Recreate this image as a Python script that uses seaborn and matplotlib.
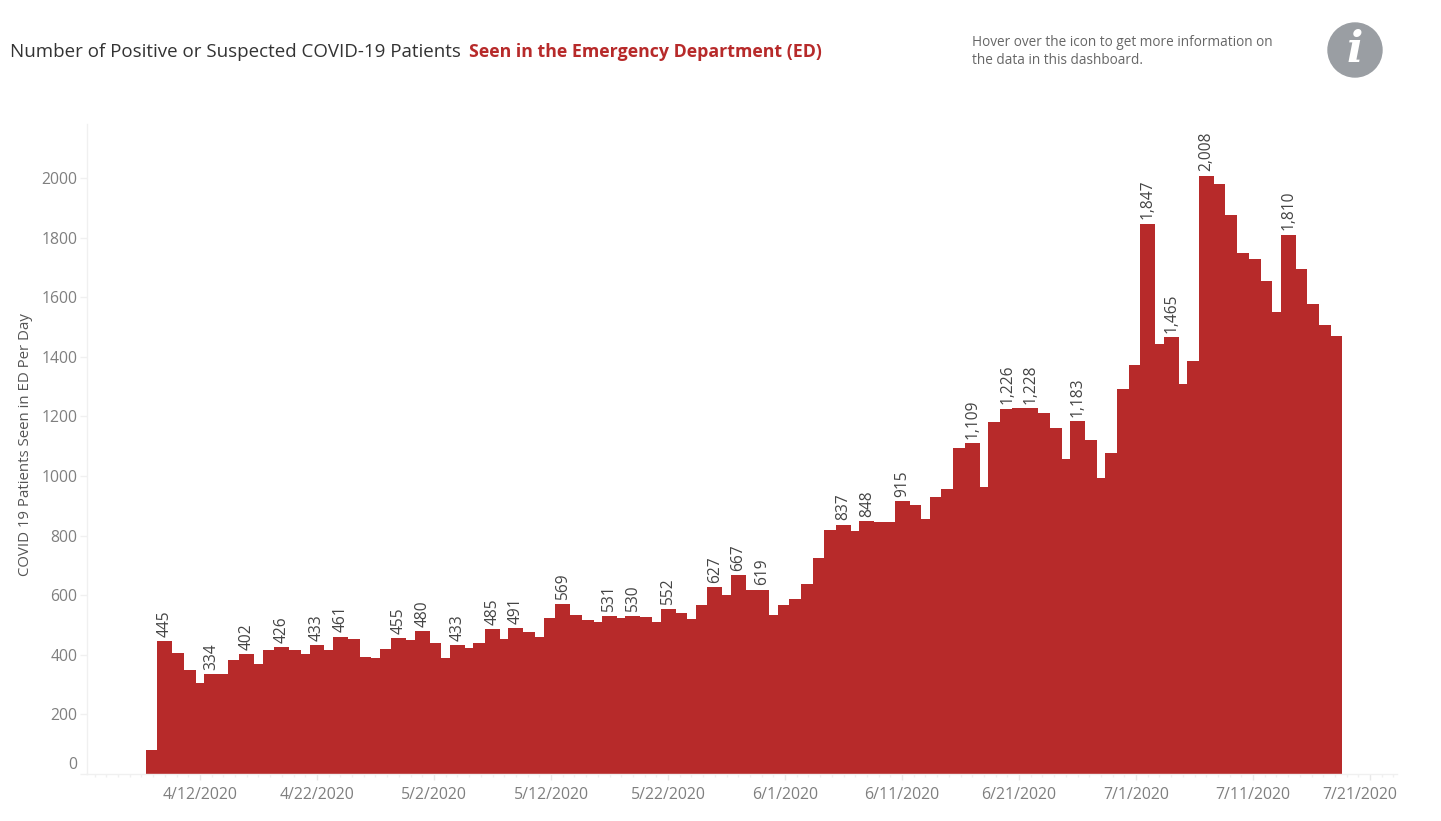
import matplotlib
matplotlib.use('Agg')
import matplotlib.pyplot as plt
import matplotlib.dates as mdates
from matplotlib.patches import Circle
from matplotlib.ticker import FixedLocator
from matplotlib.transforms import ScaledTranslation
import numpy as np
import pandas as pd
import seaborn as sns

#%%
# daily values, first bar is 4/8/2020
first_day = '2020-04-08'
patients = [80, 445, 407, 348, 306, 334, 335, 382, 402, 369, 415, 426, 415, 403, 433, 415, 461,
            452, 394, 390, 419, 455, 449, 480, 441, 390, 433, 424, 441, 485, 453, 491, 478, 459,
            525, 569, 532, 516, 511, 531, 525, 530, 528, 511, 552, 541, 520, 566, 627, 600, 667,
            616, 619, 532, 566, 587, 638, 726, 818, 837, 814, 848, 847, 846, 915, 901, 856, 931,
            956, 1094, 1109, 964, 1182, 1226, 1228, 1228, 1212, 1162, 1057, 1183, 1120, 994, 1078,
            1292, 1371, 1847, 1443, 1465, 1309, 1385, 2008, 1980, 1875, 1749, 1728, 1653, 1551,
            1810, 1695, 1577, 1506, 1468]

# days that carry a mark label
label_days = ['4/9', '4/13', '4/16', '4/19', '4/22', '4/24', '4/29', '5/1', '5/4', '5/7', '5/9',
              '5/13', '5/17', '5/19', '5/22', '5/26', '5/28', '5/30', '6/6', '6/8', '6/11', '6/17',
              '6/20', '6/22', '6/26', '7/2', '7/4', '7/7', '7/14']

x_tick_labels = ['4/12/2020', '4/22/2020', '5/2/2020', '5/12/2020', '5/22/2020', '6/1/2020',
                 '6/11/2020', '6/21/2020', '7/1/2020', '7/11/2020', '7/21/2020']
y_ticks = [0, 200, 400, 600, 800, 1000, 1200, 1400, 1600, 1800, 2000]

title_plain = 'Number of Positive or Suspected COVID-19 Patients'
title_bold = 'Seen in the Emergency Department (ED)'
note_lines = ['Hover over the icon to get more information on', 'the data in this dashboard.']
y_title = 'COVID 19 Patients Seen in ED Per Day'

RED = '#B72A2A'
W, H = 1441, 821

#%%
dates = pd.date_range(first_day, periods=len(patients))
df = pd.DataFrame({'date': dates, 'patients': patients})
df['day'] = mdates.date2num(df['date'])
df['short'] = df['date'].dt.month.astype(str) + '/' + df['date'].dt.day.astype(str)

sns.set_style('white')
plt.rcParams['font.family'] = ['Open Sans', 'DejaVu Sans']

fig = plt.figure(figsize=(W / 100, H / 100), dpi=100)
# axes box in pixels: left 87, right 1397, top 124, bottom 774
ax = fig.add_axes([87.3 / W, 1 - 774 / H, (1397 - 87.3) / W, (774 - 124) / H])

# bars are wider than one day so they overlap into the stepped look
sns.barplot(data=df, x='day', y='patients', native_scale=True, width=1.28, color=RED,
            saturation=1, ax=ax, linewidth=0)

tick_days = mdates.date2num(pd.to_datetime(x_tick_labels, format='%m/%d/%Y'))
ax.set_xticks(tick_days, x_tick_labels)
ax.xaxis.set_minor_locator(FixedLocator(np.arange(tick_days[0] - 9, tick_days[-1] + 3)))
ax.set_yticks(y_ticks, [str(v) for v in y_ticks])
ax.set_xlim(tick_days[0] - 9.63, tick_days[0] + 102.3)
ax.set_ylim(0, 2181)
ax.set_xlabel('')
ax.set_ylabel('')

for side in ['top', 'right']:
    ax.spines[side].set_visible(False)
for side in ['left', 'bottom']:
    ax.spines[side].set_color('#f0f0f0')
    ax.spines[side].set_linewidth(1)

ax.tick_params(axis='y', left=True, length=5, width=1, color='#f0f0f0', labelsize=11.3,
               labelcolor='#7f7f7f', pad=2)
ax.tick_params(axis='x', which='major', bottom=True, length=4, width=1, color='#e8e8e8',
               labelsize=11.4, labelcolor='#7f7f7f', pad=5)
ax.tick_params(axis='x', which='minor', bottom=True, length=2.5, width=1, color='#f0f0f0')

# the first y label sits above the baseline and the last x label is pushed inside the view
zero_label = ax.get_yticklabels()[0]
zero_label.set_transform(zero_label.get_transform() + ScaledTranslation(0, 11 / 100, fig.dpi_scale_trans))
last_label = ax.get_xticklabels()[-1]
last_label.set_transform(last_label.get_transform() + ScaledTranslation(-10 / 100, 0, fig.dpi_scale_trans))

# mark labels only on the picked days
texts = [f'{v:,}' if s in label_days else '' for v, s in zip(df['patients'], df['short'])]
ax.bar_label(ax.containers[0], labels=texts, rotation=90, padding=3, fontsize=11.2,
             color='#444444')

#%%
# title and side note are outside the axes
fig.text(10 / W, 1 - 52 / H, title_plain, fontsize=13.5, color='#333333', va='center')
fig.text(469 / W, 1 - 52 / H, title_bold, fontsize=12.8, color=RED, fontweight='bold',
         va='center')

fig.text(972 / W, 1 - 42 / H, note_lines[0], fontsize=9.8, color='#666666', va='center')
fig.text(972 / W, 1 - 61 / H, note_lines[1], fontsize=9.8, color='#666666', va='center')

fig.text(26 / W, 1 - 445 / H, y_title, fontsize=10.8, color='#555555', rotation=90,
         ha='center', va='center')

# info icon
icon = fig.add_axes([1328 / W, 1 - 77 / H, 54 / W, 54 / H])
icon.set_xlim(0, 1)
icon.set_ylim(0, 1)
icon.axis('off')
icon.add_patch(Circle((0.5, 0.5), 0.5, color='#9A9EA3', clip_on=False))
icon.text(0.5, 0.5, 'i', color='white', fontsize=31, fontweight='bold', style='italic',
          family='DejaVu Serif', ha='center', va='center')

plt.savefig('out.png', dpi=100)
